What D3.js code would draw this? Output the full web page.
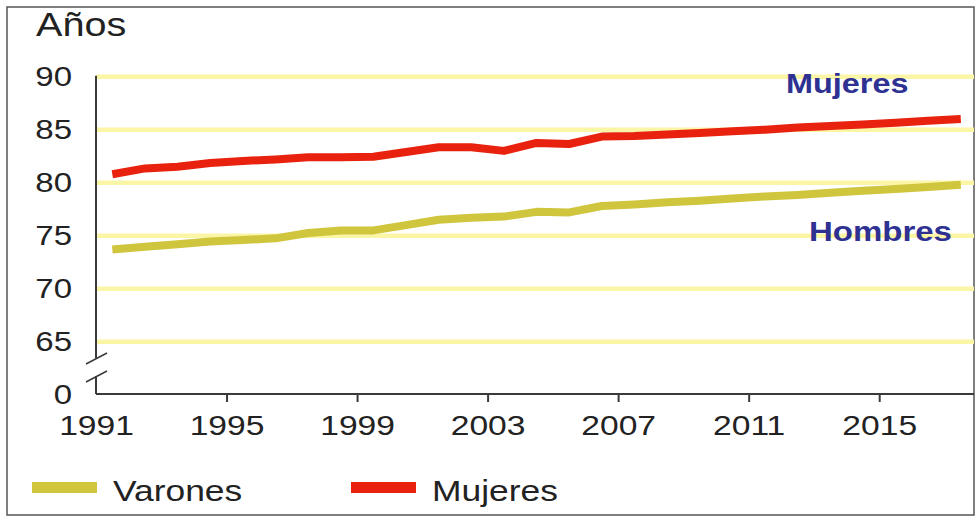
<!DOCTYPE html>
<html lang="es">
<head>
<meta charset="utf-8">
<script src="https://cdn.jsdelivr.net/npm/d3@7"></script>
<style>
  html, body { margin: 0; padding: 0; background: #fff; }
  svg { display: block; font-family: "Liberation Sans", Arial, sans-serif; }
</style>
</head>
<body>
<svg id="chart" width="976" height="517"></svg>
<script>
// Esperanza de vida al nacer, por sexo (años)
const years = [1991, 1992, 1993, 1994, 1995, 1996, 1997, 1998, 1999, 2000,
               2001, 2002, 2003, 2004, 2005, 2006, 2007, 2008, 2009, 2010,
               2011, 2012, 2013, 2014, 2015, 2016, 2017];
const varones = [73.7, 73.95, 74.2, 74.45, 74.6, 74.75, 75.25, 75.5, 75.5, 76.0,
                 76.5, 76.7, 76.8, 77.25, 77.2, 77.8, 77.95, 78.15, 78.3, 78.5,
                 78.7, 78.85, 79.05, 79.25, 79.4, 79.6, 79.8];
const mujeres = [80.8, 81.35, 81.5, 81.85, 82.05, 82.2, 82.4, 82.4, 82.45, 82.9,
                 83.35, 83.35, 83.0, 83.75, 83.65, 84.35, 84.4, 84.55, 84.7, 84.85,
                 85.0, 85.2, 85.35, 85.5, 85.65, 85.85, 86.0];
const xTicks = [1991, 1995, 1999, 2003, 2007, 2011, 2015];
const yTicks = [0, 65, 70, 75, 80, 85, 90];
const gridValues = [65, 70, 75, 80, 85, 90];
const seriesNames = ["Varones", "Mujeres"];
const seriesLabels = ["Hombres", "Mujeres"];
const yTitle = "Años";

const COL_VAR = "#cfc63e";
const COL_MUJ = "#e8220e";
const COL_GRID = "#fbf5a6";
const COL_AXIS = "#3a3a3a";
const COL_TEXT = "#222";
const COL_LABEL = "#2e3192";
const STRETCH = 1.2;

const svg = d3.select("#chart");

// frame
svg.append("rect")
  .attr("x", 7).attr("y", 7).attr("width", 967).attr("height", 508)
  .attr("fill", "#fff").attr("stroke", "#555").attr("stroke-width", 1.5);

const x0 = 96, xEnd = 974, yBase = 394;

const x = d3.scaleLinear().domain([1991, 2015]).range([x0, 879.2]);
// broken axis: 0 sits on the baseline, 65–90 span the plot
const y = d3.scaleLinear().domain([0, 65, 90]).range([yBase, 341.7, 76.7]);

// gridlines
svg.append("g").selectAll("line").data(gridValues).join("line")
  .attr("x1", x0).attr("x2", xEnd)
  .attr("y1", d => y(d)).attr("y2", d => y(d))
  .attr("stroke", COL_GRID).attr("stroke-width", 4.5);

// y axis labels (horizontally widened type)
svg.append("g").selectAll("text").data(yTicks).join("text")
  .attr("transform", d => `translate(72,${y(d)}) scale(${STRETCH},1)`)
  .attr("text-anchor", "end")
  .attr("dy", "0.35em")
  .attr("fill", COL_TEXT).attr("font-size", 27.5)
  .text(d3.format("d"));

// x axis ticks and labels
const xAxisG = svg.append("g").attr("transform", `translate(0,${yBase})`)
  .call(d3.axisBottom(x).tickValues(xTicks).tickSize(8).tickFormat(d3.format("d")));
xAxisG.select(".domain").remove();
xAxisG.selectAll(".tick line").attr("stroke", COL_AXIS).attr("stroke-width", 2)
  .filter(d => d === xTicks[0]).remove();
xAxisG.selectAll("text")
  .attr("y", 41).attr("dy", 0)
  .attr("text-anchor", "middle")
  .attr("transform", `scale(${STRETCH},1)`)
  .attr("fill", COL_TEXT).attr("font-size", 28)
  .attr("font-family", "Liberation Sans, Arial, sans-serif");

// axis lines with break marks
const axisG = svg.append("g").attr("stroke", COL_AXIS).attr("stroke-width", 2).attr("fill", "none");
axisG.append("line").attr("x1", x0).attr("x2", xEnd).attr("y1", yBase).attr("y2", yBase);
axisG.append("line").attr("x1", x0).attr("x2", x0).attr("y1", y(90) - 1).attr("y2", 358);
axisG.append("line").attr("x1", x0).attr("x2", x0).attr("y1", 376).attr("y2", yBase);
axisG.append("line").attr("x1", 86).attr("y1", 364).attr("x2", 107).attr("y2", 353).attr("stroke-width", 1.5);
axisG.append("line").attr("x1", 86).attr("y1", 382).attr("x2", 107).attr("y2", 371).attr("stroke-width", 1.5);

// series lines (annual values centred in each year)
const line = d3.line()
  .x((d, i) => x(years[i] + 0.5))
  .y(d => y(d))
  .curve(d3.curveLinear);

const series = [
  { name: seriesNames[0], values: varones, color: COL_VAR },
  { name: seriesNames[1], values: mujeres, color: COL_MUJ }
];

svg.append("g").selectAll("path").data(series).join("path")
  .attr("d", d => line(d.values))
  .attr("fill", "none")
  .attr("stroke", d => d.color)
  .attr("stroke-width", 8)
  .attr("stroke-linejoin", "round")
  .attr("stroke-linecap", "butt");

// title
svg.append("text")
  .attr("transform", `translate(36,36) scale(${STRETCH},1)`)
  .attr("font-size", 33).attr("fill", COL_TEXT)
  .text(yTitle);

// inline series labels
svg.append("text")
  .attr("transform", `translate(786,93) scale(${STRETCH},1)`)
  .attr("font-size", 27).attr("font-weight", "bold").attr("fill", COL_LABEL)
  .text(seriesLabels[1]);
svg.append("text")
  .attr("transform", `translate(809,241) scale(${STRETCH},1)`)
  .attr("font-size", 27.5).attr("font-weight", "bold").attr("fill", COL_LABEL)
  .text(seriesLabels[0]);

// legend
const legendX = [32, 351];
const legend = svg.append("g").selectAll("g").data(series).join("g")
  .attr("transform", (d, i) => `translate(${legendX[i]},482)`);
legend.append("rect")
  .attr("x", 0).attr("y", 0).attr("width", 65).attr("height", 11)
  .attr("fill", d => d.color);
legend.append("text")
  .attr("transform", `translate(81,19) scale(${STRETCH},1)`)
  .attr("font-size", 29.5).attr("fill", COL_TEXT)
  .text(d => d.name);
</script>
</body>
</html>
